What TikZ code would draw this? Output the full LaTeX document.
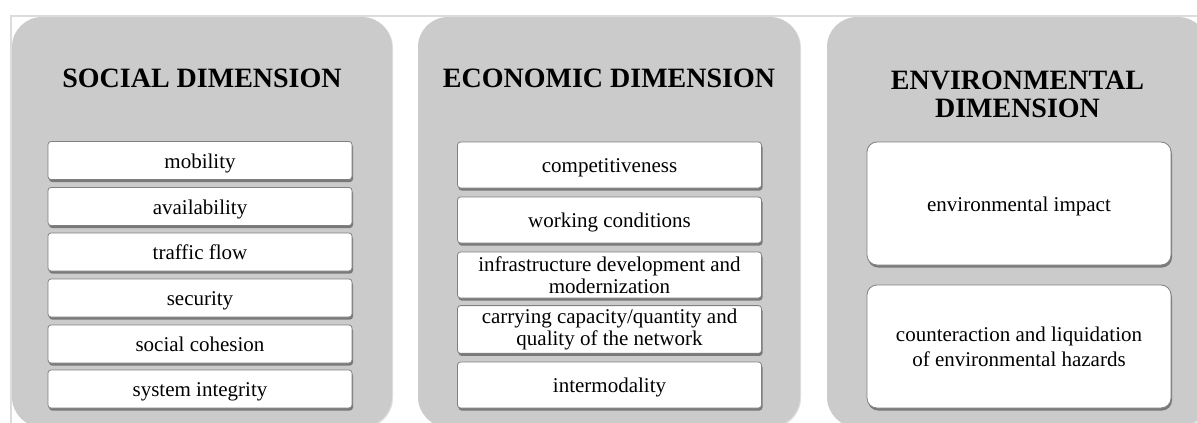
\documentclass[tikz,border=0pt]{standalone}
\usepackage{fontspec}
\setmainfont{Liberation Serif}
\usepackage{xcolor}
\usetikzlibrary{shadows}

\definecolor{panelgray}{HTML}{CBCBCB}
\definecolor{framegray}{HTML}{DCDCDC}

\begin{document}
\begin{tikzpicture}[x=1pt, y=-1pt,
            panel/.style={rectangle, rounded corners=30pt, fill=panelgray, minimum height=410pt,
                drop shadow={shadow xshift=1pt, shadow yshift=-1pt, opacity=0.12, fill=black}},
            heading/.style={font=\fontsize{28}{28}\selectfont\bfseries, align=center},
            item/.style={rectangle, rounded corners=3pt, draw=black!50, line width=0.8pt, fill=white,
                minimum width=304pt, align=center, font=\fontsize{21}{22}\selectfont,
                drop shadow={shadow xshift=1pt, shadow yshift=-2.5pt, opacity=0.4, fill=black}},
            oneline/.style={item, text height=19pt, text depth=4pt},
            bigitem/.style={item, rounded corners=10pt, minimum height=123pt, font=\fontsize{21}{25}\selectfont}
        ]

            \useasboundingbox (0,0) rectangle (1197,423);
            \clip (0,0) rectangle (1197,423);
            \fill[white] (0,0) rectangle (1197,423);

% Columns
            \node[panel, minimum width=380pt] (social) at (202,222) {};
            \node[panel, minimum width=382pt] (economic) at (609,222) {};
            \node[panel, minimum width=381pt] (environmental) at (1017.5,222) {};

% Frame
            \draw[framegray, line width=1.5pt] (11,423) -- (11,16) -- (1197,16);

% Social dimension
            \node[heading] (socialtitle) at (202,78) {SOCIAL DIMENSION};
            \node[oneline, minimum height=38pt] (mobility) at (200,160.5) {mobility};
            \node[oneline, minimum height=38pt] (availability) at (200,206.5) {availability};
            \node[oneline, minimum height=38pt] (traffic) at (200,252) {traffic flow};
            \node[oneline, minimum height=38pt] (security) at (200,298) {security};
            \node[oneline, minimum height=38pt] (cohesion) at (200,344) {social cohesion};
            \node[oneline, minimum height=38pt] (integrity) at (200,389) {system integrity};

% Economic dimension
            \node[heading] (economictitle) at (609,78) {ECONOMIC DIMENSION};
            \node[oneline, minimum height=46pt] (competitiveness) at (609.5,165) {competitiveness};
            \node[oneline, minimum height=46pt] (working) at (609.5,220) {working conditions};
            \node[item, minimum height=46pt] (infrastructure) at (609.5,275) {infrastructure development and\\modernization};
            \node[item, minimum height=46pt] (capacity) at (609.5,329.5) {carrying capacity/quantity and\\quality of the network};
            \node[oneline, minimum height=46pt] (intermodality) at (609.5,385) {intermodality};

% Environmental dimension
            \node[heading] (environmentaltitle) at (1017.5,94) {ENVIRONMENTAL\\DIMENSION};
            \node[bigitem, text height=19pt, text depth=4pt] (impact) at (1019,203.5) {environmental impact};
            \node[bigitem] (hazards) at (1019,346.5) {counteraction and liquidation\\of environmental hazards};

        \end{tikzpicture}
\end{document}
